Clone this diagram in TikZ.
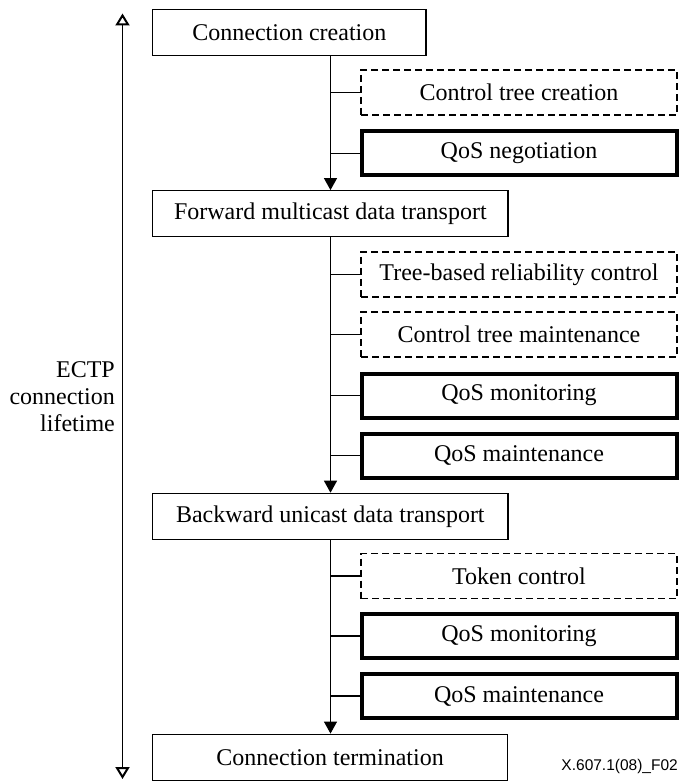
\documentclass[tikz,border=0pt]{standalone}
\usepackage{fontspec}
\setmainfont{Liberation Serif}
\newfontfamily\arialfont{Liberation Sans}
\usetikzlibrary{arrows.meta}
\tikzset{
  plainbox/.style={draw, line width=1.2pt, inner sep=0pt, font=\fontsize{24}{28}\selectfont},
  mainbox/.style={plainbox, minimum height=46pt},
  dashbox/.style={plainbox, dash pattern=on 7pt off 4pt, minimum width=316pt, minimum height=45pt},
  thickbox/.style={plainbox, line width=4pt, minimum width=315pt, minimum height=44pt},
  link/.style={line width=1.2pt},
  flow/.style={link, -{Triangle[length=12pt,width=13pt]}},
  life/.style={link, {Triangle[open,length=12pt,width=14pt,line width=2pt]}-{Triangle[open,length=12pt,width=14pt,line width=2pt]}},
  sidelabel/.style={inner sep=0pt, align=right, font=\fontsize{24}{27}\selectfont},
  codelabel/.style={inner sep=0pt, font=\arialfont\fontsize{15.5}{18}\selectfont}
}
\begin{document}
\begin{tikzpicture}[x=1pt,y=-1pt]
\useasboundingbox (0,0) rectangle (680,783);
\coordinate (sp) at (330.5,0);
% main boxes
\node[mainbox, minimum width=273.3pt] (cc) at (289.35,32.25) {Connection creation};
\node[mainbox, minimum width=355.3pt] (fm) at (330.35,213.7) {Forward multicast data transport};
\node[mainbox, minimum width=355.3pt] (bu) at (330.35,516.3) {Backward unicast data transport};
\node[mainbox, minimum width=354.8pt] (ct) at (330.1,757.2) {Connection termination};
% side boxes
\node[dashbox] (ctc) at (519,92.5) {Control tree creation};
\node[thickbox] (qn) at (519,153.3) {QoS negotiation};
\node[dashbox] (tbr) at (519,274.5) {Tree-based reliability control};
\node[dashbox] (ctm) at (519,334.5) {Control tree maintenance};
\node[thickbox] (qm1) at (519,395.5) {QoS monitoring};
\node[thickbox] (qma1) at (519,455.5) {QoS maintenance};
\node[dashbox] (tc) at (519,576) {Token control};
\node[thickbox] (qm2) at (519,636) {QoS monitoring};
\node[thickbox] (qma2) at (519,696) {QoS maintenance};
% spine arrows
\draw[flow] (cc.south -| sp) -- (fm.north -| sp);
\draw[flow] (fm.south -| sp) -- (bu.north -| sp);
\draw[flow] (bu.south -| sp) -- (ct.north -| sp);
% branches
\foreach \b in {ctc,qn,tbr,ctm,qm1,qma1,tc,qm2,qma2}
  \draw[link] (\b.west -| sp) -- (\b.west);
% lifetime
\coordinate (lt) at (122.5,13.5);
\coordinate (lb) at (122.5,779);
\draw[life] (lt) -- (lb);
\node[sidelabel, anchor=east] (lab) at (115,396.3) {ECTP\\connection\\lifetime};
\node[codelabel, anchor=base east] (code) at (678,770) {X.607.1(08)\_F02};
\end{tikzpicture}
\end{document}
